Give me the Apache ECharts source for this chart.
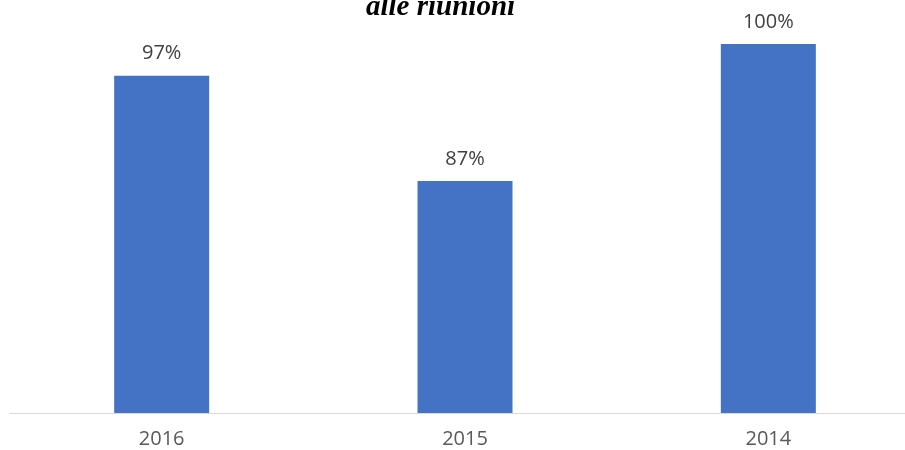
<!DOCTYPE html>
<html><head><meta charset="utf-8">
<script src="https://cdn.jsdelivr.net/npm/echarts@6/dist/echarts.min.js"></script>
<style>html,body{margin:0;padding:0;background:#fff;overflow:hidden}#c{width:920px;height:450px}</style>
</head><body><div id="c"></div>
<script>
const categories = ['2016', '2015', '2014'];
const values = [97, 87, 100];
const titleText = 'alle riunioni';
const chart = echarts.init(document.getElementById('c'));
chart.setOption({
  animation: false,
  title: {
    text: titleText, left: 361, top: -12,
    textStyle: { fontFamily: 'Liberation Serif', fontStyle: 'italic', fontWeight: 'bold', fontSize: 29, color: '#000' }
  },
  grid: { left: 10, right: 0, top: 44, bottom: 37 },
  xAxis: {
    type: 'category', data: categories,
    axisLine: { lineStyle: { color: '#d9d9d9', width: 1 } },
    axisTick: { show: false },
    axisLabel: { color: '#595959', fontSize: 20, fontFamily: 'Open Sans', margin: 16 }
  },
  yAxis: { type: 'value', min: 65, max: 100, show: false, splitLine: { show: false } },
  series: [{
    type: 'bar', data: values, barWidth: 95,
    itemStyle: { color: '#4472c4' },
    label: { show: true, position: 'top', distance: 12, formatter: '{c}%', color: '#404040', fontSize: 20, fontFamily: 'Open Sans' }
  }]
});
</script></body></html>
